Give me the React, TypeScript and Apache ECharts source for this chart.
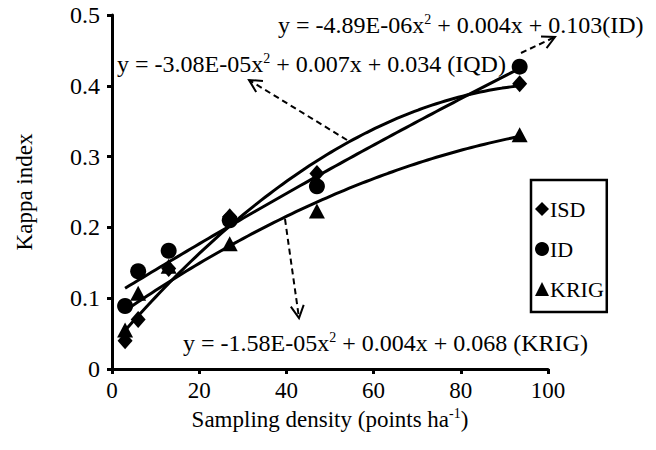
import React, { useEffect, useRef } from "react";
import * as echarts from "echarts";

const densities = [3, 6, 13, 27, 47, 93.5];
const isdValues = [0.04, 0.07, 0.142, 0.215, 0.276, 0.403];
const idValues = [0.089, 0.138, 0.167, 0.21, 0.258, 0.427];
const krigValues = [0.055, 0.107, 0.145, 0.177, 0.223, 0.331];
const xTicks = [0, 20, 40, 60, 80, 100];
const yTicks = [0, 0.1, 0.2, 0.3, 0.4, 0.5];

const eqID = "y = -4.89E-06x{s|2} + 0.004x + 0.103(ID)";
const eqIQD = "y = -3.08E-05x{s|2} + 0.007x + 0.034 (IQD)";
const eqKRIG = "y = -1.58E-05x{s|2} + 0.004x + 0.068 (KRIG)";

const FONT = "'Liberation Serif', 'Times New Roman', serif";

function quadFit(xs: number[], ys: number[]): number[] {
  const s = [0, 0, 0, 0, 0];
  const t = [0, 0, 0];
  for (let i = 0; i < xs.length; i++) {
    let p = 1;
    for (let k = 0; k < 5; k++) {
      s[k] += p;
      if (k < 3) t[k] += p * ys[i];
      p *= xs[i];
    }
  }
  const M = [
    [s[0], s[1], s[2]],
    [s[1], s[2], s[3]],
    [s[2], s[3], s[4]],
  ];
  const det = (m: number[][]) =>
    m[0][0] * (m[1][1] * m[2][2] - m[1][2] * m[2][1]) -
    m[0][1] * (m[1][0] * m[2][2] - m[1][2] * m[2][0]) +
    m[0][2] * (m[1][0] * m[2][1] - m[1][1] * m[2][0]);
  const D = det(M);
  const res: number[] = [];
  for (let c = 0; c < 3; c++) {
    const m = M.map((row, r) => row.map((v, j) => (j === c ? t[r] : v)));
    res.push(det(m) / D);
  }
  return res; // a0, a1, a2
}

function trend(xs: number[], ys: number[]): number[][] {
  const [a0, a1, a2] = quadFit(xs, ys);
  const pts: number[][] = [];
  const x0 = xs[0];
  const x1 = xs[xs.length - 1];
  const n = 90;
  for (let i = 0; i <= n; i++) {
    const x = x0 + ((x1 - x0) * i) / n;
    pts.push([x, a0 + a1 * x + a2 * x * x]);
  }
  return pts;
}

function arrow(x1: number, y1: number, x2: number, y2: number) {
  const ang = Math.atan2(y2 - y1, x2 - x1);
  const L = 14;
  const spread = Math.PI / 6.5;
  const a = [x2 - L * Math.cos(ang - spread), y2 - L * Math.sin(ang - spread)];
  const b = [x2 - L * Math.cos(ang + spread), y2 - L * Math.sin(ang + spread)];
  return [
    {
      type: "line",
      shape: { x1, y1, x2, y2 },
      style: { stroke: "#000", lineWidth: 2, lineDash: [6, 4] },
      silent: true,
    },
    {
      type: "polyline",
      shape: { points: [a, [x2, y2], b] },
      style: { stroke: "#000", lineWidth: 2, fill: null },
      silent: true,
    },
  ];
}

const supRich = { s: { fontSize: 14, verticalAlign: "top", padding: [0, 0, 11, 0], fontFamily: FONT } };

function eqText(text: string, left: number, top: number) {
  return {
    type: "text",
    left,
    top,
    style: {
      text,
      fill: "#000",
      font: `24px ${FONT}`,
      rich: supRich,
    },
    silent: true,
  };
}

export default function App() {
  const ref = useRef<HTMLDivElement>(null);
  useEffect(() => {
    if (!ref.current) return;
    const chart = echarts.init(ref.current, undefined, { renderer: "svg" });
    const pair = (ys: number[]) => densities.map((x, i) => [x, ys[i]]);
    const lineStyle = { color: "#000", width: 3 };
    const option = {
      animation: false,
      backgroundColor: "#fff",
      textStyle: { fontFamily: FONT, color: "#000" },
      grid: { left: 112, right: 108, top: 15, bottom: 81 },
      xAxis: {
        type: "value",
        min: xTicks[0],
        max: xTicks[xTicks.length - 1],
        interval: 20,
        name: "Sampling density (points ha{s|-1})",
        nameLocation: "middle",
        nameGap: 29,
        nameTextStyle: {
          fontSize: 23,
          fontFamily: FONT,
          color: "#000",
          rich: supRich,
        },
        axisLine: { show: true, lineStyle: { color: "#000", width: 3 } },
        axisTick: { show: true, inside: false, length: 5, lineStyle: { color: "#000", width: 3 } },
        axisLabel: { color: "#000", fontSize: 23, fontFamily: FONT, margin: 10 },
        splitLine: { show: false },
      },
      yAxis: {
        type: "value",
        min: yTicks[0],
        max: yTicks[yTicks.length - 1],
        interval: 0.1,
        name: "Kappa index",
        nameLocation: "middle",
        nameGap: 76,
        nameTextStyle: { fontSize: 23, fontFamily: FONT, color: "#000" },
        axisLine: { show: true, lineStyle: { color: "#000", width: 3 } },
        axisTick: { show: true, inside: false, length: 5, lineStyle: { color: "#000", width: 3 } },
        axisLabel: { color: "#000", fontSize: 24, fontFamily: FONT, margin: 12 },
        splitLine: { show: false },
      },
      legend: {
        data: [
          { name: "ISD", icon: "diamond" },
          { name: "ID", icon: "circle" },
          { name: "KRIG", icon: "triangle" },
        ],
        orient: "vertical",
        left: 531,
        top: 180,
        itemWidth: 14,
        itemHeight: 14,
        itemGap: 18,
        padding: [18, 3, 12, 4],
        borderColor: "#000",
        borderWidth: 2.5,
        textStyle: { fontSize: 22, fontFamily: FONT, color: "#000", padding: [0, 0, 0, -4] },
      },
      series: [
        { type: "line", name: "ISD fit", data: trend(densities, isdValues), showSymbol: false, symbol: "none", lineStyle, itemStyle: { color: "#000" }, z: 2 },
        { type: "line", name: "ID fit", data: trend(densities, idValues), showSymbol: false, symbol: "none", lineStyle, itemStyle: { color: "#000" }, z: 2 },
        { type: "line", name: "KRIG fit", data: trend(densities, krigValues), showSymbol: false, symbol: "none", lineStyle, itemStyle: { color: "#000" }, z: 2 },
        { type: "scatter", name: "ISD", data: pair(isdValues), symbol: "diamond", symbolSize: [15, 17], itemStyle: { color: "#000", opacity: 1 }, z: 3 },
        { type: "scatter", name: "ID", data: pair(idValues), symbol: "circle", symbolSize: 16, itemStyle: { color: "#000", opacity: 1 }, z: 3 },
        { type: "scatter", name: "KRIG", data: pair(krigValues), symbol: "triangle", symbolSize: [16, 15], itemStyle: { color: "#000", opacity: 1 }, z: 3 },
      ],
      graphic: [
        ...arrow(521, 53, 555, 37),
        ...arrow(347, 140, 249, 80),
        ...arrow(285, 219, 299, 318),
        eqText(eqID, 278, 12),
        eqText(eqIQD, 117, 51),
        eqText(eqKRIG, 183, 330),
      ],
    };
    chart.setOption(option as any);
    return () => chart.dispose();
  }, []);
  return (
    <div
      ref={ref}
      style={{ position: "fixed", left: 0, top: 0, width: 656, height: 450 }}
    />
  );
}
